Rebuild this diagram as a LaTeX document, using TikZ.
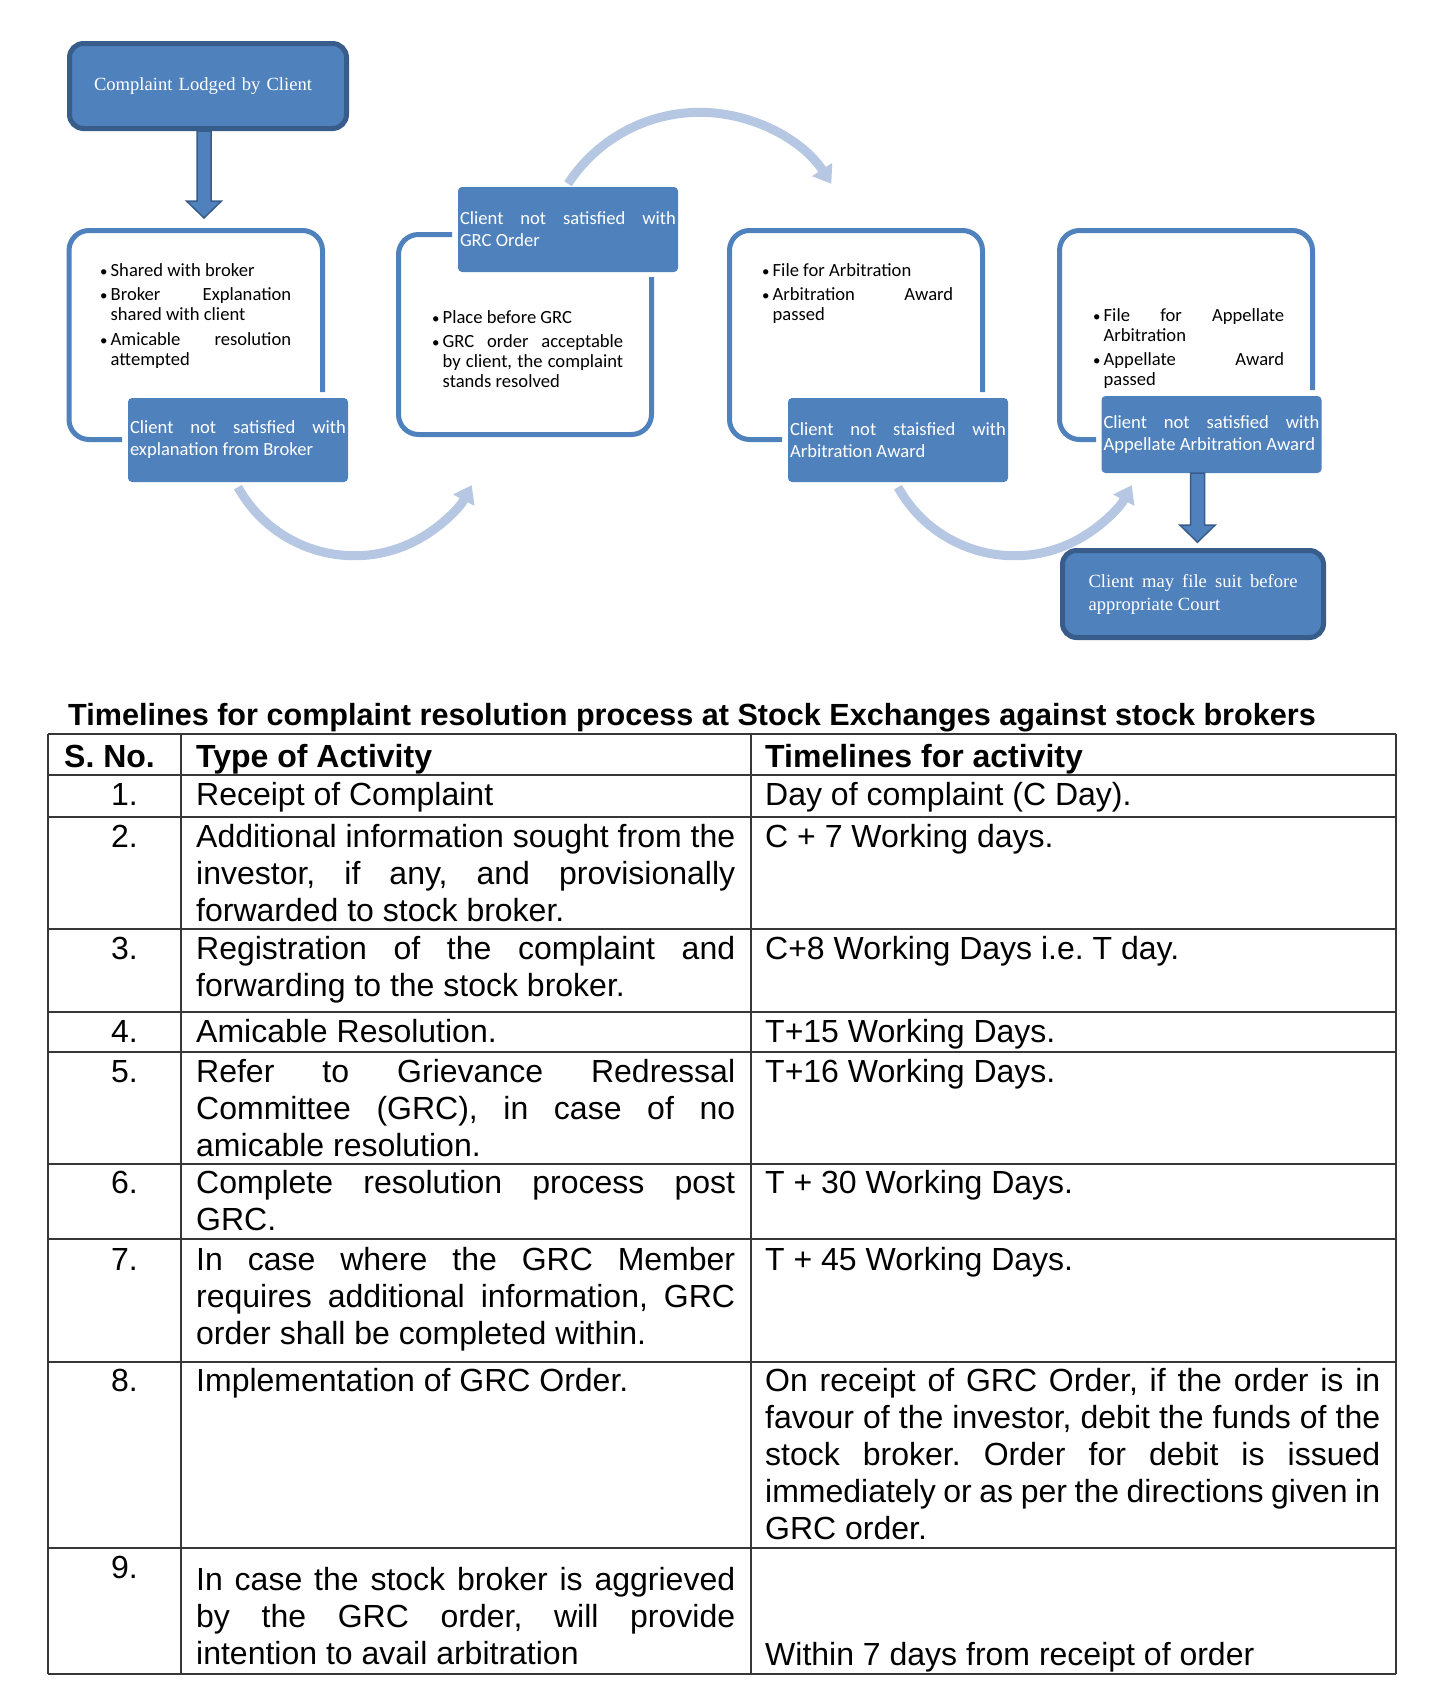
\documentclass[tikz,border=0pt]{standalone}
\usepackage{fontspec}
\usepackage{graphicx}
\setmainfont{Liberation Sans}
\newfontfamily\calibri{Carlito}
\newfontfamily\timesnr{Liberation Serif}
\usetikzlibrary{positioning,calc,arrows.meta}

\definecolor{mblue}{RGB}{79,129,189}
\definecolor{dblue}{RGB}{56,93,138}
\definecolor{arcblue}{RGB}{182,199,227}
\definecolor{rulegray}{RGB}{55,55,55}

% one bullet of a step box
\newcommand{\bpoint}[1]{\noindent\hangindent=10.5pt\hangafter=1\makebox[10.5pt][l]{\scalebox{0.8}{\textbullet}}#1\par}
% broad down arrow from #1 to tip #2
\newcommand{\blockarrow}[2]{\draw[fatarrow] ($(#1)+(-7,0)$) -- ($(#2)+(-7,-17)$) -- ($(#2)+(-17.5,-17)$) -- (#2) -- ($(#2)+(17.5,-17)$) -- ($(#2)+(7,-17)$) -- ($(#1)+(7,0)$) -- cycle;}

\AtBeginDocument{\frenchspacing}

\begin{document}
\begin{tikzpicture}[x=1pt, y=-1pt, node distance=660pt,
    lodgebox/.style={rectangle, draw=dblue, line width=5pt, fill=mblue, rounded corners=14pt, text=white, font=\timesnr\fontsize{18.6}{23}\selectfont},
    stepnote/.style={rectangle, fill=mblue, rounded corners=4pt, text=white, text width=216pt, align=justify, inner xsep=2pt, minimum width=220pt, font=\calibri\fontsize{18.6}{22}\selectfont},
    points/.style={anchor=base west, inner sep=0pt, text width=191pt, align=justify, font=\calibri\fontsize{18.6}{20}\selectfont, execute at begin node={\setlength{\parskip}{4.5pt}}},
    openframe/.style={draw=mblue, line width=5pt, rounded corners=20pt},
    bigarc/.style={draw=arcblue, line width=9pt, -{Triangle[length=17pt,width=23pt]}},
    fatarrow/.style={fill=mblue, draw=dblue, line width=1.5pt},
    title/.style={anchor=base west, inner sep=0pt, font=\bfseries\fontsize{30.6}{35}\selectfont},
    colhead/.style={anchor=base west, inner sep=0pt, font=\bfseries\fontsize{32}{37}\selectfont},
    sno/.style={anchor=base east, inner sep=0pt, font=\fontsize{32}{37}\selectfont},
    cell/.style={anchor=base west, inner sep=0pt, align=justify, font=\fontsize{32}{37}\selectfont},
    rowrule/.style={draw=rulegray, line width=2pt},
    colrule/.style={draw=rulegray, line width=1.5pt}]

\path[fill=white, use as bounding box] (0,0) rectangle (1440,1698);

% Frames
\draw[openframe] (322.5,392) -- (322.5,230.5) -- (69,230.5) -- (69,439.5) -- (122,439.5);
\draw[openframe] (452,234.5) -- (398.5,234.5) -- (398.5,434.5) -- (651.5,434.5) -- (651.5,277);
\draw[openframe] (982.5,392) -- (982.5,230.5) -- (729.5,230.5) -- (729.5,439.5) -- (782,439.5);
\draw[openframe] (1312.5,390) -- (1312.5,230.5) -- (1059.5,230.5) -- (1059.5,439.5) -- (1096,439.5);

% Nodes
\node[lodgebox, minimum width=277pt, minimum height=85pt, text width=228pt, align=left] (lodged) at (208,86) {Complaint Lodged by Client};
\node[points] (brokerpts) at (100,276) {\bpoint{Shared with broker}\bpoint{Broker Explanation\linebreak shared with client}\bpoint{Amicable resolution\linebreak attempted}};
\node[points] (grcpts) at (432,323) {\bpoint{Place before GRC}\bpoint{GRC order acceptable\linebreak by client, the complaint\linebreak stands resolved}};
\node[points] (arbpts) at (762,276) {\bpoint{File for Arbitration}\bpoint{Arbitration Award\linebreak passed}};
\node[points] (appealpts) at (1093,321) {\bpoint{File for Appellate\linebreak Arbitration}\bpoint{Appellate Award\linebreak passed}};
\node[stepnote, minimum height=84pt] (nsbroker) at (238,440) {Client not satisfied with\linebreak explanation from Broker};
\node[stepnote, minimum height=84pt, right of=nsbroker] (nsarb) {Client not staisfied with\linebreak Arbitration Award};
\node[stepnote, minimum height=85pt] (nsgrc) at (568,229.5) {Client not satisfied with\linebreak GRC Order};
\node[stepnote, minimum height=77pt] (nsappeal) at (1211.5,434.5) {Client not satisfied with\linebreak Appellate Arbitration Award};
\node[lodgebox, minimum width=261pt, minimum height=87pt, text width=209pt, align=justify] (court) at (1193,594) {Client may file suit before\linebreak appropriate Court};

% Arrows
\coordinate (a1s) at ([xshift=-4pt]lodged.south);
\coordinate (a1e) at ([xshift=-4pt,yshift=-87pt]lodged.south);
\blockarrow{a1s}{a1e}
\coordinate (a2s) at ([xshift=-14pt]nsappeal.south);
\coordinate (a2e) at ([xshift=-14pt,yshift=-69pt]nsappeal.south);
\blockarrow{a2s}{a2e}
\draw[bigarc] ([yshift=-5pt]nsbroker.south) arc[start angle=151, end angle=28, radius=133];
\draw[bigarc] ([yshift=3pt]nsgrc.north) arc[start angle=213, end angle=327, radius=157];
\draw[bigarc] ([yshift=-5pt]nsarb.south) arc[start angle=151, end angle=28, radius=133];

% Table
\node[title] (caption) at (68,725) {Timelines for complaint resolution process at Stock Exchanges against stock brokers};
\foreach \y in {734,775,817,929,1012,1052,1164,1239,1362,1548,1674}
  \draw[rowrule] (48,\y) -- (1396,\y);
\foreach \x in {48,181,751,1396}
  \draw[colrule] (\x,734) -- (\x,1674);

\node[colhead] (hsno) at (64,767) {S. No.};
\node[colhead] (hact) at (196,767) {Type of Activity};
\node[colhead] (htime) at (765,767) {Timelines for activity};

\foreach \n/\y in {1/805,2/847,3/959,4/1042,5/1082,6/1193,7/1270,8/1391,9/1578}
  \node[sno] (sno\n) at (138,\y) {\n.};

\node[cell, text width=539pt] (act1) at (196,805) {Receipt of Complaint};
\node[cell, text width=539pt] (act2) at (196,847) {Additional information sought from the\linebreak investor, if any, and provisionally\linebreak forwarded to stock broker.};
\node[cell, text width=539pt] (act3) at (196,959) {Registration of the complaint and\linebreak forwarding to the stock broker.};
\node[cell, text width=539pt] (act4) at (196,1042) {Amicable Resolution.};
\node[cell, text width=539pt] (act5) at (196,1082) {Refer to Grievance Redressal\linebreak Committee (GRC), in case of no\linebreak amicable resolution.};
\node[cell, text width=539pt] (act6) at (196,1193) {Complete resolution process post\linebreak GRC.};
\node[cell, text width=539pt] (act7) at (196,1270) {In case where the GRC Member\linebreak requires additional information, GRC\linebreak order shall be completed within.};
\node[cell, text width=539pt] (act8) at (196,1391) {Implementation of GRC Order.};
\node[cell, text width=539pt] (act9) at (196,1590) {In case the stock broker is aggrieved\linebreak by the GRC order, will provide\linebreak intention to avail arbitration};

\node[cell, text width=615pt] (time1) at (765,805) {Day of complaint (C Day).};
\node[cell, text width=615pt] (time2) at (765,847) {C + 7 Working days.};
\node[cell, text width=615pt] (time3) at (765,959) {C+8 Working Days i.e. T day.};
\node[cell, text width=615pt] (time4) at (765,1042) {T+15 Working Days.};
\node[cell, text width=615pt] (time5) at (765,1082) {T+16 Working Days.};
\node[cell, text width=615pt] (time6) at (765,1193) {T + 30 Working Days.};
\node[cell, text width=615pt] (time7) at (765,1270) {T + 45 Working Days.};
\node[cell, text width=615pt] (time8) at (765,1391) {On receipt of GRC Order, if the order is in\linebreak favour of the investor, debit the funds of the\linebreak stock broker. Order for debit is issued\linebreak immediately or as per the directions given in\linebreak GRC order.};
\node[cell, text width=615pt] (time9) at (765,1665) {Within 7 days from receipt of order};

\end{tikzpicture}
\end{document}
